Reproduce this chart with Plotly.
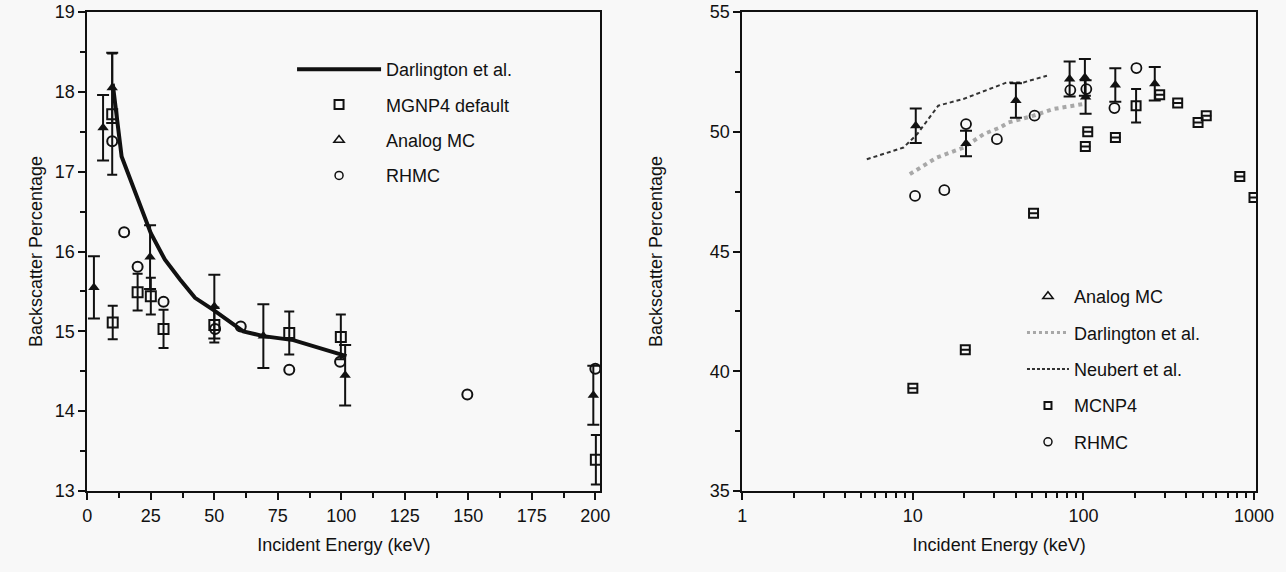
import plotly.graph_objects as go

# ---------------- Left panel data (linear energy axis) ----------------
L_darl_x = [10, 13.5, 25, 30.5, 36.5, 42.4, 49.6, 58.8, 61.4, 69.3, 81.1, 102]
L_darl_y = [18.1, 17.19, 16.23, 15.9, 15.65, 15.42, 15.27, 15.06, 15.0, 14.94, 14.89, 14.69]

L_mcnp_x = [9.8, 10, 19.8, 25, 30, 50, 79.5, 99.8, 200.2]
L_mcnp_y = [17.72, 15.11, 15.49, 15.44, 15.03, 15.08, 14.98, 14.93, 13.39]
L_mcnp_e = [0.76, 0.21, 0.23, 0.23, 0.24, 0.22, 0.27, 0.28, 0.31]

L_anal_x = [2.6, 6.2, 9.8, 24.7, 50, 69.3, 101.5, 199.2]
L_anal_y = [15.55, 17.55, 18.05, 15.93, 15.31, 14.94, 14.45, 14.2]
L_anal_e = [0.39, 0.41, 0.44, 0.4, 0.4, 0.4, 0.38, 0.37]

L_rhmc_x = [9.8, 14.5, 19.8, 30, 50.3, 60.4, 79.5, 99.5, 149.6, 200]
L_rhmc_y = [17.38, 16.24, 15.81, 15.37, 15.03, 15.06, 14.52, 14.62, 14.21, 14.53]

L_xticks = [0, 25, 50, 75, 100, 125, 150, 175, 200]
L_yticks = [13, 14, 15, 16, 17, 18, 19]

# ---------------- Right panel data (log energy axis) ----------------
R_anal_x = [10.4, 20.5, 40.2, 83, 102, 103, 153.8, 262]
R_anal_y = [50.25, 49.51, 51.3, 52.2, 52.27, 51.45, 51.95, 52.0]
R_anal_e = [0.72, 0.53, 0.72, 0.73, 0.77, 0.7, 0.7, 0.7]

R_darl_x = [9.6, 13.8, 19.8, 26, 32.5, 36.4, 51, 66.8, 100]
R_darl_y = [48.23, 48.92, 49.34, 49.9, 50.18, 50.39, 50.67, 50.95, 51.16]

R_neub_x = [5.37, 8.81, 10.6, 14.1, 19.8, 35.6, 44.6, 61.1]
R_neub_y = [48.85, 49.34, 49.9, 51.09, 51.37, 52.06, 52.06, 52.34]

R_mcnp_x = [10, 20.3, 51, 102.6, 106, 154, 203.6, 280, 357, 470, 525, 826, 1000]
R_mcnp_y = [39.29, 40.9, 46.6, 49.38, 50.0, 49.76, 51.09, 51.55, 51.2, 50.39, 50.67, 48.13, 47.25]
R_mcnp_e = [None, None, None, None, None, None, 0.7, None, None, None, None, None, None]

R_rhmc_x = [10.3, 15.3, 20.5, 31.1, 51.7, 83.8, 104, 152, 204.5]
R_rhmc_y = [47.32, 47.56, 50.32, 49.69, 50.67, 51.74, 51.78, 50.99, 52.66]

R_xticks = [1, 10, 100, 1000]
R_xlabels = ["1", "10", "100", "1000"]
R_yticks = [35, 40, 45, 50, 55]

FONT = "Liberation Sans, Arial, Helvetica, sans-serif"
BLACK = "#111111"
BG = "#f8f8f8"
FS = 18

fig = go.Figure()

# ---------- left panel traces ----------
fig.add_trace(go.Scatter(x=L_darl_x, y=L_darl_y, mode="lines",
                         line=dict(color=BLACK, width=4), showlegend=False,
                         xaxis="x", yaxis="y"))
fig.add_trace(go.Scatter(x=L_mcnp_x, y=L_mcnp_y, mode="markers",
                         marker=dict(symbol="square-open", size=10, color=BLACK, line=dict(width=2)),
                         error_y=dict(type="data", array=L_mcnp_e, color=BLACK, thickness=2, width=5),
                         showlegend=False, xaxis="x", yaxis="y"))
fig.add_trace(go.Scatter(x=L_anal_x, y=L_anal_y, mode="markers",
                         marker=dict(symbol="triangle-up", size=10, color=BLACK),
                         error_y=dict(type="data", array=L_anal_e, color=BLACK, thickness=2, width=6),
                         showlegend=False, xaxis="x", yaxis="y"))
fig.add_trace(go.Scatter(x=L_rhmc_x, y=L_rhmc_y, mode="markers",
                         marker=dict(symbol="circle-open", size=10, color=BLACK, line=dict(width=2)),
                         showlegend=False, xaxis="x", yaxis="y"))

# ---------- right panel traces ----------
fig.add_trace(go.Scatter(x=R_darl_x, y=R_darl_y, mode="lines",
                         line=dict(color="#a8a8a8", width=4, dash="dot"), showlegend=False,
                         xaxis="x2", yaxis="y2"))
fig.add_trace(go.Scatter(x=R_neub_x, y=R_neub_y, mode="lines",
                         line=dict(color="#333333", width=2, dash="4px,3px"), showlegend=False,
                         xaxis="x2", yaxis="y2"))
fig.add_trace(go.Scatter(x=R_anal_x, y=R_anal_y, mode="markers",
                         marker=dict(symbol="triangle-up", size=10, color=BLACK),
                         error_y=dict(type="data", array=R_anal_e, color=BLACK, thickness=2, width=6),
                         showlegend=False, xaxis="x2", yaxis="y2"))
fig.add_trace(go.Scatter(x=R_mcnp_x, y=R_mcnp_y, mode="markers",
                         marker=dict(symbol="square-open", size=9, color=BLACK, line=dict(width=2)),
                         error_y=dict(type="data", array=R_mcnp_e, color=BLACK, thickness=2, width=5),
                         showlegend=False, xaxis="x2", yaxis="y2"))
fig.add_trace(go.Scatter(x=R_rhmc_x, y=R_rhmc_y, mode="markers",
                         marker=dict(symbol="circle-open", size=10, color=BLACK, line=dict(width=1.8)),
                         showlegend=False, xaxis="x2", yaxis="y2"))

# ---------- legend entries ----------
def leg(name, legend, group, **kw):
    fig.add_trace(go.Scatter(x=[None], y=[None], name=name, legend=legend,
                             legendgroup=group, showlegend=True, **kw))

leg("Darlington et al.", "legend", "a", mode="lines", line=dict(color=BLACK, width=4))
leg("MGNP4 default", "legend", "b", mode="markers",
    marker=dict(symbol="square-open", size=9, color=BLACK, line=dict(width=2)))
leg("Analog MC", "legend", "c", mode="markers",
    marker=dict(symbol="triangle-up-open", size=9, color=BLACK, line=dict(width=1.5)))
leg("RHMC", "legend", "d", mode="markers",
    marker=dict(symbol="circle-open", size=8, color=BLACK, line=dict(width=1.5)))

leg("Analog MC", "legend2", "e", mode="markers",
    marker=dict(symbol="triangle-up-open", size=9, color=BLACK, line=dict(width=1.5)))
leg("Darlington et al.", "legend2", "f", mode="lines",
    line=dict(color="#a8a8a8", width=3, dash="dot"))
leg("Neubert et al.", "legend2", "g", mode="lines",
    line=dict(color="#333333", width=2, dash="3px,2px"))
leg("MCNP4", "legend2", "h", mode="markers",
    marker=dict(symbol="square-open", size=7, color=BLACK, line=dict(width=2)))
leg("RHMC", "legend2", "i", mode="markers",
    marker=dict(symbol="circle-open", size=8, color=BLACK, line=dict(width=1.5)))

axis_common = dict(showline=True, linecolor=BLACK, linewidth=2, mirror=True,
                   ticks="outside", ticklen=7, tickwidth=2, tickcolor=BLACK,
                   showgrid=False, zeroline=False, automargin=False,
                   tickfont=dict(family=FONT, size=FS, color=BLACK))
minor_common = dict(ticks="outside", ticklen=5, tickwidth=1.5, tickcolor=BLACK)
title_font = dict(family=FONT, size=FS, color=BLACK)

fig.update_layout(
    width=1286, height=572,
    margin=dict(l=0, r=0, t=12, b=81),
    paper_bgcolor=BG, plot_bgcolor=BG,
    font=dict(family=FONT, size=FS, color=BLACK),
    xaxis=dict(domain=[0.0679, 0.4669], anchor="y", range=[0, 202],
               tickvals=L_xticks,
               minor=dict(dtick=12.5, tick0=0, **minor_common),
               title=dict(text="Incident Energy (keV)", standoff=14, font=title_font),
               **axis_common),
    yaxis=dict(domain=[0, 1], anchor="x", range=[13, 19], tickvals=L_yticks,
               minor=dict(dtick=0.5, tick0=13, **minor_common),
               title=dict(text="Backscatter Percentage", standoff=7, font=title_font),
               **axis_common),
    xaxis2=dict(domain=[0.5772, 0.9767], anchor="y2", type="log", range=[0, 3.012],
                tickvals=R_xticks, ticktext=R_xlabels,
                minor=dict(tickvals=[2, 3, 4, 5, 6, 7, 8, 9, 20, 30, 40, 50, 60, 70, 80, 90,
                                     200, 300, 400, 500, 600, 700, 800, 900], **minor_common),
                title=dict(text="Incident Energy (keV)", standoff=14, font=title_font),
                **axis_common),
    yaxis2=dict(domain=[0, 1], anchor="x2", range=[35, 55], tickvals=R_yticks,
                minor=dict(dtick=2.5, tick0=35, **minor_common),
                title=dict(text="Backscatter Percentage", standoff=42, font=title_font),
                **axis_common),
    legend=dict(x=0.2271, y=0.9186, xanchor="left", yanchor="top", bgcolor="rgba(0,0,0,0)",
                font=dict(family=FONT, size=FS, color=BLACK), tracegroupgap=9,
                itemwidth=84),
    legend2=dict(x=0.7947, y=0.4447, xanchor="left", yanchor="top", bgcolor="rgba(0,0,0,0)",
                 font=dict(family=FONT, size=FS, color=BLACK), tracegroupgap=10,
                 itemwidth=42),
)

# remove the browser's default 8px body margin so the figure fills the window exactly,
# and hide the interactive mode bar
fig.write_html("out.html", config={"displayModeBar": False},
               post_script="document.body.style.margin='0';")
